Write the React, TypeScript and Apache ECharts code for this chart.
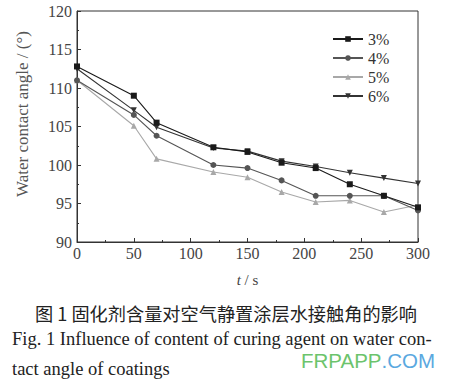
import React, { useEffect, useRef } from "react";
import * as echarts from "echarts";

const times = [0, 50, 70, 120, 150, 180, 210, 240, 270, 300];
const seriesNames = ["3%", "4%", "5%", "6%"];
const s3 = [112.8, 109.0, 105.5, 102.3, 101.7, 100.3, 99.6, 97.5, 96.0, 94.5];
const s4 = [111.0, 106.5, 103.8, 100.0, 99.6, 98.0, 96.0, 96.0, 96.0, 94.1];
const s5 = [111.0, 105.1, 100.8, 99.1, 98.4, 96.5, 95.2, 95.4, 93.9, 94.8];
const s6 = [112.5, 107.1, 104.9, 102.2, 101.8, 100.5, 99.8, 99.0, 98.3, 97.6];
const yTicks = [90, 95, 100, 105, 110, 115, 120];
const xTicks = [0, 50, 100, 150, 200, 250, 300];

const caption1 = "图 1 固化剂含量对空气静置涂层水接触角的影响";
const caption2 = "Fig. 1 Influence of content of curing agent on water con-";
const caption3 = "tact angle of coatings";

const SERIF = "Liberation Serif";

export default function App() {
  const ref = useRef<HTMLDivElement>(null);
  useEffect(() => {
    if (!ref.current) return;
    const chart = echarts.init(ref.current, null, { renderer: "svg" });
    const pair = (arr: number[]) => times.map((t, i) => [t, arr[i]]);
    const styles = [
      { data: s3, color: "#1a1a1a", symbol: "rect", size: 6, rotate: 0 },
      { data: s4, color: "#555555", symbol: "circle", size: 6, rotate: 0 },
      { data: s5, color: "#a8a8a8", symbol: "triangle", size: 6, rotate: 0 },
      { data: s6, color: "#333333", symbol: "triangle", size: 6, rotate: 180 },
    ];
    chart.setOption({
      animation: false,
      backgroundColor: "#ffffff",
      textStyle: { fontFamily: SERIF },
      grid: {
        left: 77,
        right: 41,
        top: 11,
        bottom: 140,
        show: true,
        borderColor: "#333",
        borderWidth: 1,
      },
      legend: {
        data: seriesNames,
        orient: "vertical",
        left: 332,
        top: 31,
        padding: 0,
        itemWidth: 30,
        itemHeight: 7,
        itemGap: 3,
        textStyle: { fontFamily: SERIF, fontSize: 16, color: "#333", lineHeight: 14 },
      },
      xAxis: {
        type: "value",
        min: 0,
        max: 300,
        interval: 50,
        name: "{i|t} / s",
        nameLocation: "middle",
        nameGap: 30,
        nameTextStyle: {
          fontFamily: SERIF,
          fontSize: 15,
          color: "#444",
          rich: { i: { fontStyle: "italic", fontFamily: SERIF, fontSize: 15, color: "#444" } },
        },
        axisLine: { lineStyle: { color: "#333", width: 1 } },
        axisTick: { inside: true, length: 4, lineStyle: { color: "#333" } },
        minorTick: { show: true, splitNumber: 2, length: 2, lineStyle: { color: "#333" } },
        splitLine: { show: false },
        axisLabel: {
          fontFamily: SERIF,
          fontSize: 16,
          color: "#444",
          margin: 3,
          formatter: (v: number) => (xTicks.includes(v) ? String(v) : ""),
        },
      },
      yAxis: {
        type: "value",
        min: 90,
        max: 120,
        interval: 5,
        axisLine: { show: true, lineStyle: { color: "#333", width: 1 } },
        axisTick: { show: true, inside: true, length: 4, lineStyle: { color: "#333" } },
        minorTick: { show: true, splitNumber: 2, length: 2, lineStyle: { color: "#333" } },
        splitLine: { show: false },
        axisLabel: {
          fontFamily: SERIF,
          fontSize: 16,
          color: "#444",
          margin: 5,
          formatter: (v: number) => (yTicks.includes(v) ? String(v) : ""),
        },
      },
      series: styles.map((s, i) => ({
        name: seriesNames[i],
        type: "line",
        data: pair(s.data),
        symbol: s.symbol,
        symbolSize: s.size,
        symbolRotate: s.rotate,
        showAllSymbol: true,
        lineStyle: { color: s.color, width: 1.1 },
        itemStyle: { color: s.color },
        z: 10 - i,
      })),
      graphic: [
        {
          type: "text",
          x: 22,
          y: 114,
          rotation: Math.PI / 2,
          style: {
            text: "Water contact angle / (°)",
            fontFamily: SERIF,
            fontSize: 17,
            fill: "#555",
            align: "center",
            verticalAlign: "middle",
          },
        },
        {
          type: "text",
          x: 226,
          y: 313,
          style: {
            text: caption1,
            fontFamily: "Noto Sans CJK SC",
            fontSize: 18.2,
            fill: "#222",
            align: "center",
            verticalAlign: "middle",
          },
        },
        {
          type: "text",
          x: 12,
          y: 339,
          style: {
            text: caption2,
            fontFamily: SERIF,
            fontSize: 18.5,
            fill: "#222",
            align: "left",
            verticalAlign: "middle",
          },
        },
        {
          type: "text",
          x: 12,
          y: 369,
          style: {
            text: caption3,
            fontFamily: SERIF,
            fontSize: 18.5,
            fill: "#222",
            align: "left",
            verticalAlign: "middle",
          },
        },
        {
          type: "text",
          x: 301,
          y: 360,
          z: 100,
          style: {
            text: "{g|FRPAPP}{b|.COM}",
            verticalAlign: "middle",
            rich: {
              g: { fontFamily: "Liberation Sans", fontSize: 20.5, fill: "#6cc46c", color: "#6cc46c" },
              b: { fontFamily: "Liberation Sans", fontSize: 20.5, fill: "#5aa8e0", color: "#5aa8e0" },
            },
          },
        },
      ],
    });
    return () => chart.dispose();
  }, []);
  return (
    <div
      ref={ref}
      style={{ position: "absolute", left: 0, top: 0, width: 459, height: 382 }}
    />
  );
}
